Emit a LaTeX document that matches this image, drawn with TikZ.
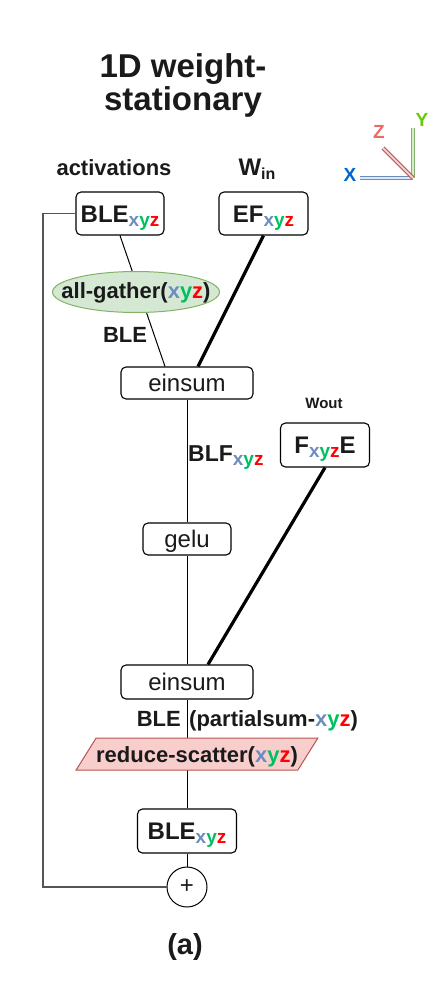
\documentclass[tikz,border=0pt]{standalone}
\usepackage{fontspec}
\setmainfont{Liberation Sans}
\usetikzlibrary{shapes.geometric}

\definecolor{ink}{HTML}{1A1A1A}
\definecolor{cx}{HTML}{6C8EBF}
\definecolor{cy}{HTML}{00BF5F}
\definecolor{cz}{HTML}{FF0000}
\definecolor{agfill}{HTML}{D5E8D4}
\definecolor{agline}{HTML}{82B366}
\definecolor{rsfill}{HTML}{F8CECC}
\definecolor{rsline}{HTML}{B85450}
\definecolor{xfill}{HTML}{DAE8FC}
\definecolor{xlabel}{HTML}{0066CC}
\definecolor{ylabel}{HTML}{66CC00}
\definecolor{zlabel}{HTML}{EA6B66}
\definecolor{loopgray}{HTML}{555555}

\newcommand{\xyz}{\textcolor{cx}{x}\textcolor{cy}{y}\textcolor{cz}{z}}
\newcommand{\lowxyz}{\raisebox{-4pt}{\fontsize{19}{19}\selectfont\xyz}}

\begin{document}
\begin{tikzpicture}[x=1pt,y=-1pt]
	\tikzstyle{every node} = [text=ink,inner sep=0pt];
	\tikzstyle{box} = [draw=black,line width=1.1pt,rounded corners=5pt,text height=17pt,text depth=0pt,font=\bfseries\fontsize{24}{28}\selectfont];
	\tikzstyle{opbox} = [box,font=\fontsize{24}{28}\selectfont];
	\tikzstyle{lbl} = [font=\bfseries\fontsize{22}{26}\selectfont];
	\tikzstyle{axlbl} = [font=\bfseries\fontsize{19}{20}\selectfont];
	\tikzstyle{link} = [draw=black,line width=1pt];
	\tikzstyle{wlink} = [draw=black,line width=3.2pt];
	\useasboundingbox (0,0) rectangle (432,983);

	% title
	\node[anchor=base,font=\bfseries\fontsize{33}{36}\selectfont] (title1) at (183,77) {1D weight-};
	\node[anchor=base,font=\bfseries\fontsize{33}{36}\selectfont] (title2) at (183,110) {stationary};

	% axes
	\coordinate (o) at (413,178);
	\coordinate (xend) at (360,178);
	\coordinate (yend) at (413,128);
	\coordinate (zend) at (383,148);
	\draw[draw=cx,double=xfill,double distance=2pt,line width=1pt] (o) -- (xend);
	\draw[draw=agline,double=agfill,double distance=2pt,line width=1pt] (o) -- (yend);
	\draw[draw=rsline,double=rsfill,double distance=2pt,line width=1pt] (o) -- (zend);
	\node[axlbl,text=xlabel] (xl) at (350,175) {X};
	\node[axlbl,text=ylabel] (yl) at (422,120) {Y};
	\node[axlbl,text=zlabel] (zl) at (379,132) {Z};

	% inputs
	\node[lbl,anchor=base] (act) at (114,175) {activations};
	\node[anchor=base,font=\bfseries\fontsize{24}{28}\selectfont] (win) at (257,175) {W\raisebox{-4pt}{\fontsize{16}{16}\selectfont in}};
	\node[box,minimum width=88pt,minimum height=43pt] (ble1) at (120,213.5) {BLE\lowxyz};
	\node[box,minimum width=89pt,minimum height=43pt] (ef) at (263.5,213.5) {EF\lowxyz};

	\node[lbl,anchor=base] (blelbl) at (125,342) {BLE};
	\node[opbox,minimum width=132pt,minimum height=32pt] (ein1) at (187,383) {einsum};

	\node[anchor=base,font=\bfseries\fontsize{15}{16}\selectfont] (wout) at (324,408) {Wout};
	\node[box,minimum width=89pt,minimum height=44pt] (fbox) at (325,445) {F\lowxyz E};
	\node[lbl,anchor=base west,font=\bfseries\fontsize{23}{26}\selectfont] (blflbl) at (188,461) {BLF\lowxyz};

	\node[opbox,minimum width=88pt,minimum height=32pt] (gelu) at (187,539) {gelu};
	\node[opbox,minimum width=132pt,minimum height=34pt] (ein2) at (187,682) {einsum};

	\node[lbl,anchor=base east] (blepre) at (181,726) {BLE};
	\node[lbl,anchor=base west] (psum) at (189,726) {(partialsum-\xyz)};

	\node[box,minimum width=99pt,minimum height=44pt] (ble2) at (187,831) {BLE\lowxyz};
	\node[circle,draw=black,line width=1pt,minimum size=40pt,font=\fontsize{24}{28}\selectfont] (plus) at (187,887) {+};
	\coordinate (ret) at (43,213.5);

	% connectors
	\draw[link] (ble1.south) -- ([xshift=-22pt]ein1.north);
	\draw[wlink] (ef.south) -- ([xshift=11pt]ein1.north);
	\draw[wlink] (fbox.south) -- ([xshift=21pt]ein2.north);
	\draw[link] (ein1) -- (gelu) -- (ein2) -- (ble2) -- (plus);
	\draw[draw=loopgray,line width=1.3pt] (ble1.west) -- (ret) |- (plus);

	% collectives on top of the lines
	\node[ellipse,draw=agline,fill=agfill,line width=1pt,minimum width=167pt,minimum height=41pt,text height=12pt,text depth=0pt,lbl] (ag) at (136,292) {\makebox[0pt]{all-gather(\xyz)}};
	\node[trapezium,trapezium left angle=58,trapezium right angle=122,draw=rsline,fill=rsfill,line width=1pt,inner xsep=0pt,inner ysep=8pt,text height=16pt,text depth=0pt,lbl] (rs) at (197,754) {reduce-scatter(\xyz)};

	\node[font=\bfseries\fontsize{29}{30}\selectfont] (cap) at (185,947) {(a)};
\end{tikzpicture}
\end{document}
